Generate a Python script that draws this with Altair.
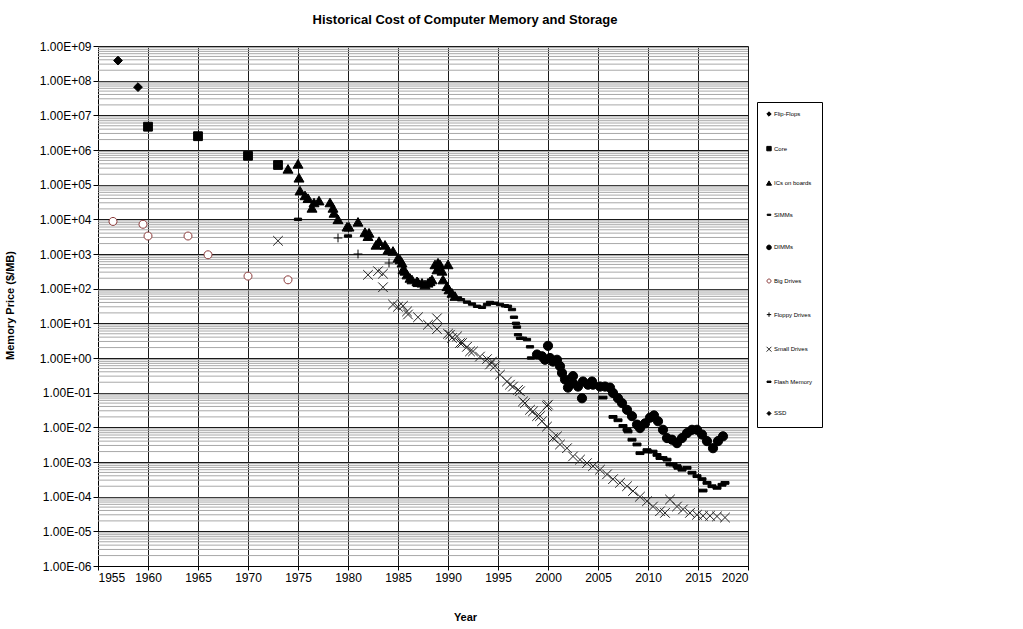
import altair as alt
import pandas as pd

# ---------------- data ----------------
series_names = ["Flip-Flops", "Core", "ICs on boards", "SIMMs", "DIMMs",
                "Big Drives", "Floppy Drives", "Small Drives", "Flash Memory", "SSD"]

flipflop_year = [1957.0, 1959.0]
flipflop_price = [3.8e8, 6.5e7]

core_year = [1960.0, 1965.0, 1970.0, 1973.0]
core_price = [4.7e6, 2.5e6, 6.8e5, 3.7e5]

ic_year = [1974.0, 1975.0, 1975.1, 1975.2, 1975.7, 1976.0, 1976.4, 1976.6, 1977.1,
           1978.2, 1978.5, 1978.6, 1979.0, 1979.9, 1980.1, 1981.0, 1981.7, 1982.0,
           1982.1, 1982.8, 1983.1, 1983.7, 1984.0, 1984.5, 1985.0, 1985.2, 1985.4,
           1985.5, 1985.7, 1985.9, 1986.2, 1986.4, 1986.9, 1987.0, 1987.4, 1987.7,
           1988.0, 1988.2, 1988.4, 1988.7, 1988.9, 1989.0, 1989.2, 1989.4, 1989.5,
           1990.0, 1989.9, 1990.1, 1990.4, 1990.7]
ic_price = [2.8e5, 3.9e5, 1.55e5, 6.6e4, 4.8e4, 4.0e4, 2.1e4, 3.0e4, 3.4e4,
            3.0e4, 2.1e4, 1.5e4, 9.8e3, 6.0e3, 6.0e3, 8.3e3, 4.2e3, 3.2e3,
            4.0e3, 1.8e3, 2.3e3, 1.8e3, 1.3e3, 1.2e3, 7.6e2, 6.8e2, 5.5e2,
            3.5e2, 3.2e2, 2.5e2, 2.0e2, 1.8e2, 1.6e2, 1.5e2, 1.45e2, 1.3e2,
            1.45e2, 1.6e2, 1.8e2, 4.9e2, 3.5e2, 5.5e2, 4.9e2, 3.2e2, 1.8e2,
            4.9e2, 1.15e2, 93, 74, 60]

simm_year = [1975.0, 1980.0, 1991.0, 1991.3, 1991.9, 1992.4, 1992.9, 1993.4, 1993.9,
             1994.2, 1994.7, 1995.2, 1995.7, 1996.0, 1996.4, 1996.6, 1996.8, 1996.9,
             1997.0, 1997.2, 1997.5, 1997.9, 1998.2, 1998.3, 1999.0]
simm_price = [1.0e4, 3.3e3, 54, 48, 41, 36, 31, 29, 35,
              40, 38, 35, 32, 31, 25, 15, 10, 7.8,
              4.7, 3.7, 3.7, 3.4, 2.1, 1.0, 1.3]

dimm_year = [1998.9, 1999.4, 1999.7, 2000.0, 2000.2, 2000.5, 2000.9, 2001.2, 2001.4,
             2001.7, 2002.0, 2002.5, 2002.5, 2003.0, 2003.4, 2003.5, 2004.0, 2004.4,
             2004.5, 2005.2, 2005.7, 2006.2, 2006.5, 2007.0, 2007.4, 2007.9, 2008.4,
             2008.9, 2009.2, 2009.7, 2010.2, 2010.6, 2011.0, 2011.5, 2011.9, 2012.4,
             2012.9, 2013.4, 2013.9, 2014.4, 2014.9, 2015.4, 2015.9, 2016.5, 2017.0,
             2017.5]
dimm_price = [1.26, 1.12, 0.89, 2.24, 1.0, 0.79, 0.89, 0.58, 0.37,
              0.24, 0.14, 0.30, 0.19, 0.15, 0.069, 0.21, 0.17, 0.21,
              0.17, 0.15, 0.15, 0.14, 0.098, 0.069, 0.050, 0.032, 0.021,
              0.012, 0.0095, 0.013, 0.019, 0.022, 0.015, 0.0085, 0.0049, 0.0044,
              0.0035, 0.0049, 0.0068, 0.0085, 0.0085, 0.0062, 0.0040, 0.0025, 0.0040,
              0.0055]

bigdrive_year = [1956.5, 1959.5, 1960.0, 1964.0, 1966.0, 1970.0, 1974.0]
bigdrive_price = [8.7e3, 7.2e3, 3.3e3, 3.3e3, 9.5e2, 2.3e2, 1.8e2]

floppy_year = [1979.0, 1981.0, 1984.1]
floppy_price = [2.9e3, 1.0e3, 5.5e2]

small_year = [1973.0, 1982.0, 1983.0, 1983.5, 1983.5, 1984.5, 1985.0, 1985.5, 1985.9,
              1986.0, 1987.0, 1988.0, 1988.9, 1988.9, 1990.0, 1990.2, 1990.4, 1990.9,
              1991.2, 1991.4, 1991.9, 1992.2, 1992.5, 1993.2, 1993.9, 1994.2, 1994.4,
              1994.7, 1995.2, 1995.9, 1996.2, 1996.5, 1997.0, 1997.2, 1997.5, 1997.7,
              1998.2, 1998.5, 1998.9, 1999.2, 1999.4, 1999.9, 1999.9, 2000.0, 2000.5,
              2000.9, 2001.2, 2001.9, 2002.5, 2003.2, 2003.9, 2004.5, 2005.2, 2005.9,
              2006.5, 2007.2, 2007.9, 2008.5, 2009.2, 2009.9, 2010.5, 2011.2, 2011.7,
              2012.2, 2012.9, 2013.5, 2014.2, 2014.9, 2015.5, 2016.2, 2016.9, 2017.7]
small_price = [2.4e3, 2.5e2, 3.2e2, 2.7e2, 1.1e2, 35, 30, 32, 22,
               18, 15, 9.1, 14, 6.8, 5.0, 4.7, 3.8, 4.2,
               2.7, 2.7, 2.1, 1.55, 1.55, 1.1, 0.93, 0.65, 0.79,
               0.58, 0.33, 0.21, 0.17, 0.15, 0.12, 0.11, 0.056, 0.05,
               0.032, 0.029, 0.021, 0.021, 0.015, 0.0105, 0.041, 0.045, 0.0049,
               0.0055, 0.0032, 0.0025, 0.00145, 0.00117, 0.00093, 0.00076, 0.0006, 0.00044,
               0.00032, 0.00025, 0.0002, 0.000145, 0.0001, 7.4e-5, 5.2e-5, 3.8e-5, 3.4e-5,
               8.3e-5, 5.2e-5, 4.3e-5, 3.4e-5, 3.0e-5, 2.8e-5, 2.8e-5, 2.7e-5, 2.5e-5]

flash_year = [2005.5, 2006.5, 2007.0, 2007.5, 2007.9, 2008.0, 2008.4, 2008.9, 2009.2,
              2009.9, 2010.0, 2010.5, 2010.9, 2011.2, 2011.5, 2011.9, 2012.2, 2012.5,
              2012.9, 2013.0, 2013.4, 2013.9, 2014.4, 2014.9, 2015.4, 2015.5, 2015.9,
              2016.4, 2016.9, 2017.4, 2017.7]
flash_price = [0.072, 0.020, 0.016, 0.011, 0.0085, 0.0076, 0.0044, 0.0032, 0.0018,
               0.0022, 0.0020, 0.0020, 0.0016, 0.0013, 0.0013, 0.00117, 0.00085, 0.00085,
               0.00076, 0.00068, 0.0006, 0.00068, 0.00049, 0.00039, 0.00032, 0.00015, 0.00025,
               0.0002, 0.00018, 0.00022, 0.00025]

ssd_year = []
ssd_price = []

y_ticks = [1e-6, 1e-5, 1e-4, 1e-3, 1e-2, 1e-1, 1e0, 1e1, 1e2, 1e3, 1e4, 1e5, 1e6, 1e7, 1e8, 1e9]
x_ticks = [1955, 1960, 1965, 1970, 1975, 1980, 1985, 1990, 1995, 2000, 2005, 2010, 2015, 2020]

# ---------------- table ----------------
groups = [
    ("Flip-Flops", flipflop_year, flipflop_price),
    ("Core", core_year, core_price),
    ("ICs on boards", ic_year, ic_price),
    ("SIMMs", simm_year, simm_price),
    ("Big Drives", bigdrive_year, bigdrive_price),
    ("Floppy Drives", floppy_year, floppy_price),
    ("Small Drives", small_year, small_price),
    ("DIMMs", dimm_year, dimm_price),
    ("Flash Memory", flash_year, flash_price),
    ("SSD", ssd_year, ssd_price),
]
rows = []
for name, ys, ps in groups:
    for yr, pr in zip(ys, ps):
        rows.append({"series": name, "year": yr, "price": pr})
df = pd.DataFrame(rows)

minor = pd.DataFrame({"price": [m * d for d in y_ticks[:-1] for m in range(2, 10)]})

# ---------------- styles ----------------
shape_paths = [
    "M0,-1.1L1.1,0L0,1.1L-1.1,0Z",                                   # Flip-Flops
    "M-1.1,-1.1L1.1,-1.1L1.1,1.1L-1.1,1.1Z",                         # Core
    "M0,-1.15L1.25,1L-1.25,1Z",                                      # ICs
    "M-0.9,-0.3L0.9,-0.3L0.9,0.3L-0.9,0.3Z",                         # SIMMs
    "M1.15,0A1.15,1.15,0,1,1,-1.15,0A1.15,1.15,0,1,1,1.15,0Z",       # DIMMs
    "M1,0A1,1,0,1,1,-1,0A1,1,0,1,1,1,0Z",                            # Big Drives
    "M-1.1,0L1.1,0M0,-1.1L0,1.1",                                    # Floppy
    "M-1.2,-1.2L1.2,1.2M-1.2,1.2L1.2,-1.2",                          # Small Drives
    "M-1,-0.35L1,-0.35L1,0.35L-1,0.35Z",                             # Flash
    "M0,-1L1,0L0,1L-1,0Z",                                           # SSD
]
fill_colors = ["#000000", "#000000", "#000000", "#000000", "#000000",
               "#ffffff", "#000000", "#000000", "#000000", "#000000"]
stroke_colors = ["#000000", "#000000", "#000000", "#000000", "#000000",
                 "#8b3a3a", "#000000", "#222222", "#000000", "#000000"]

FONT = "Liberation Sans"

legend = alt.Legend(
    title=None, orient="none", legendX=659, legendY=56,
    labelFont=FONT, labelFontSize=6, labelColor="#000000", labelOffset=2,
    symbolSize=16, symbolStrokeWidth=1, rowPadding=24.6, padding=9,
    strokeColor="#000000", fillColor="#ffffff", cornerRadius=0, labelLimit=80,
)

xscale = alt.Scale(domain=[1955, 2020], nice=False, zero=False)
yscale = alt.Scale(type="log", domain=[1e-6, 1e9], nice=False)

label_expr = ("'1.00E' + (datum.value >= 1 ? '+' : '-') + "
              "(abs(round(log(datum.value)/LN10)) < 10 ? '0' : '') + "
              "abs(round(log(datum.value)/LN10))")

y_axis = alt.Axis(
    values=y_ticks, labelExpr=label_expr, title="Memory Price ($/MB)",
    grid=True, gridColor="#1a1a1a", gridOpacity=1, tickSize=5,
    tickColor="#000000", domainColor="#000000",
    labelFont=FONT, labelFontSize=12, labelColor="#000000", labelPadding=2,
    titleFont=FONT, titleFontSize=11, titleFontWeight="bold", titleColor="#000000",
    titleAngle=-90, titleX=-88, titleY=259, titleAlign="center",
    titleBaseline="middle")

x_axis = alt.Axis(
    values=x_ticks, format="d", title="Year", grid=True, gridColor="#1a1a1a",
    gridOpacity=1, tickSize=4, tickColor="#000000", domainColor="#000000",
    labelFont=FONT, labelFontSize=12, labelColor="#000000", labelPadding=2,
    titleFont=FONT, titleFontSize=11, titleFontWeight="bold", titleColor="#000000",
    titleX=367, titleY=51, titleAlign="center", titleBaseline="middle")

minor_rules = alt.Chart(minor).mark_rule(color="#a8a8a8", strokeWidth=1).encode(
    y=alt.Y("price:Q", scale=yscale, axis=y_axis)
)

points = alt.Chart(df).mark_point(size=64, strokeWidth=1, opacity=1).encode(
    x=alt.X("year:Q", scale=xscale, axis=x_axis),
    y=alt.Y("price:Q", scale=yscale, axis=y_axis),
    shape=alt.Shape("series:N", scale=alt.Scale(domain=series_names, range=shape_paths),
                    legend=legend),
    fill=alt.Fill("series:N", scale=alt.Scale(domain=series_names, range=fill_colors),
                  legend=legend),
    stroke=alt.Stroke("series:N", scale=alt.Scale(domain=series_names, range=stroke_colors),
                      legend=legend),
)

chart = alt.layer(minor_rules, points).properties(
    width=650, height=520,
    autosize=alt.AutoSizeParams(type="none"),
    padding={"left": 98, "top": 46, "right": 275, "bottom": 63},
    title=alt.Title("Historical Cost of Computer Memory and Storage", font=FONT,
                    fontSize=13, fontWeight="bold", color="#000000", anchor="middle",
                    frame="group", dx=42, offset=13),
).configure_view(stroke="#000000", strokeWidth=1).configure(background="#ffffff")

chart.save("out.html", embed_options={"renderer": "svg", "actions": False})
